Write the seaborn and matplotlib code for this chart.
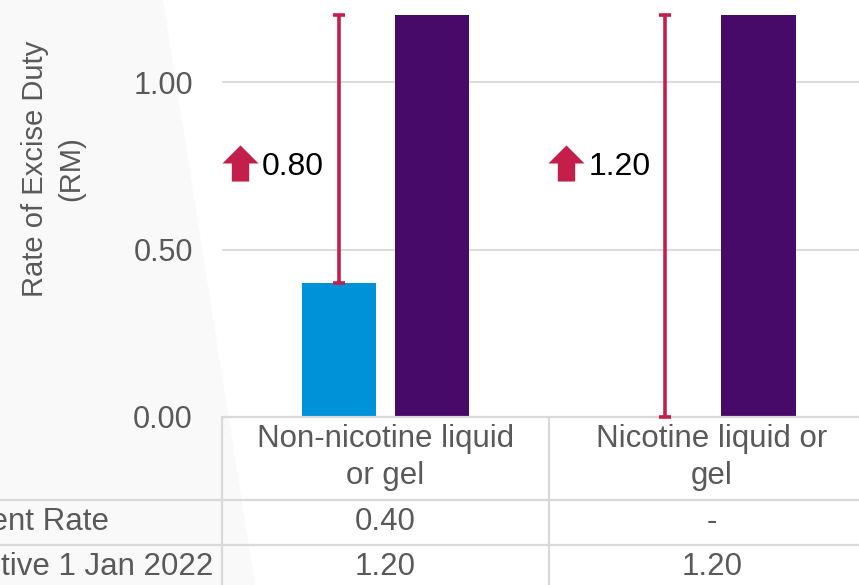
import numpy as np
import pandas as pd
import matplotlib
matplotlib.use("Agg")
import matplotlib.pyplot as plt
from matplotlib.lines import Line2D
from matplotlib.patches import Polygon
from matplotlib.path import Path
import seaborn as sns

# data
categories = ["Non-nicotine liquid\nor gel", "Nicotine liquid or\ngel"]
series_names = ["Current Rate", "Effective 1 Jan 2022"]
current_rate = [0.40, 0.0]
new_rate = [1.20, 1.20]
increase = [0.80, 1.20]
yticks = [0.0, 0.5, 1.0]

sns.set_style("white")
plt.rcParams["font.family"] = ["Liberation Sans", "DejaVu Sans"]

GRAY = "#595959"
LINE = "#d9d9d9"
RED = "#c41f4b"
colors = ["#0092d8", "#470a68"]
FS = 22.5

df = pd.DataFrame({
    "category": categories * 2,
    "series": [series_names[0]] * 2 + [series_names[1]] * 2,
    "rate": current_rate + new_rate,
})

fig = plt.figure(figsize=(8.59, 5.85), dpi=100)
fig.patch.set_facecolor("white")
# faint slanted background shape at left
bg = Polygon([(0, 0), (0, 1), (163 / 859, 1), (255 / 859, 0)], closed=True,
             transform=fig.transFigure, facecolor="#f9f9f9", edgecolor="none", zorder=-5)
fig.patches.append(bg)

ax = fig.add_axes([222 / 859, 168 / 585, 637 / 859, 417 / 585])
ax.set_facecolor("none")

W = 0.57
sns.barplot(data=df, x="category", y="rate", hue="series", hue_order=series_names,
            palette=colors, saturation=1, width=W, gap=0.2, errorbar=None, linewidth=0,
            legend=False, ax=ax, zorder=2)

ax.set_xlim(-0.5, 1.45)
ax.set_ylim(0, 1.245)
ax.set_yticks(yticks)
ax.set_yticklabels([f"{v:.2f}" for v in yticks])
ax.tick_params(axis="y", labelsize=22, labelcolor=GRAY, length=0, pad=21)
ax.set_xticks([])
ax.set_xlabel("")
ax.set_ylabel("Rate of Excise Duty\n(RM)", fontsize=21, color=GRAY, linespacing=1.35)
ax.yaxis.set_label_coords(-0.215, 0.595)
ax.grid(axis="y", color=LINE, linewidth=1.3)
ax.set_axisbelow(True)
for s in ax.spines.values():
    s.set_visible(False)

# change bars (current -> new)
x = np.arange(len(categories))
xc = x - W / 4
lower = np.zeros(len(categories))
upper = np.array(new_rate) - np.array(current_rate)
ax.errorbar(xc, current_rate, yerr=[lower, upper], fmt="none", ecolor=RED,
            elinewidth=2.6, capsize=4.5, capthick=2.6, zorder=5, clip_on=False)

# up-arrow marker with increase labels
arrow = Path([(-1, 0), (0, 1), (1, 0), (0.48, 0), (0.48, -1), (-0.48, -1), (-0.48, 0), (-1, 0)],
             [Path.MOVETO] + [Path.LINETO] * 6 + [Path.CLOSEPOLY])
label_y = 0.757
ax.scatter(xc - 0.303, [label_y] * len(xc), marker=arrow, s=26 ** 2, color=RED,
           linewidths=0, zorder=6)
for xi, v in zip(xc, increase):
    ax.text(xi - 0.235, label_y, f"{v:.2f}", fontsize=23, color="black",
            ha="left", va="center_baseline", zorder=6)

# data table under the axis
tx = ax.get_xaxis_transform()
for i, cat in enumerate(categories):
    ax.text(i, -0.098, cat, transform=tx, ha="center", va="center", fontsize=FS,
            color=GRAY, linespacing=1.3, clip_on=False)
    ax.text(i, -0.252, f"{current_rate[i]:.2f}" if current_rate[i] else "-",
            transform=tx, ha="center", va="center", fontsize=FS, color=GRAY, clip_on=False)
    ax.text(i, -0.360, f"{new_rate[i]:.2f}", transform=tx, ha="center", va="center",
            fontsize=FS, color=GRAY, clip_on=False)
for name, yy in zip(series_names, [-0.252, -0.360]):
    ax.text(-0.459, yy, name, transform=ax.transAxes, ha="left", va="center",
            fontsize=FS, color=GRAY, clip_on=False)

ta = ax.transAxes
lines = [
    Line2D([0, 1.05], [0, 0], transform=ta),
    Line2D([-0.5, 1.05], [-0.199, -0.199], transform=ta),
    Line2D([-0.5, 1.05], [-0.307, -0.307], transform=ta),
    Line2D([0, 0], [0, -0.5], transform=ta),
    Line2D([0.5, 0.5], [0, -0.5], transform=tx),
]
for ln in lines:
    ln.set_color(LINE)
    ln.set_linewidth(1.6)
    ln.set_clip_on(False)
    ax.add_line(ln)

fig.savefig("out.png", dpi=100)
